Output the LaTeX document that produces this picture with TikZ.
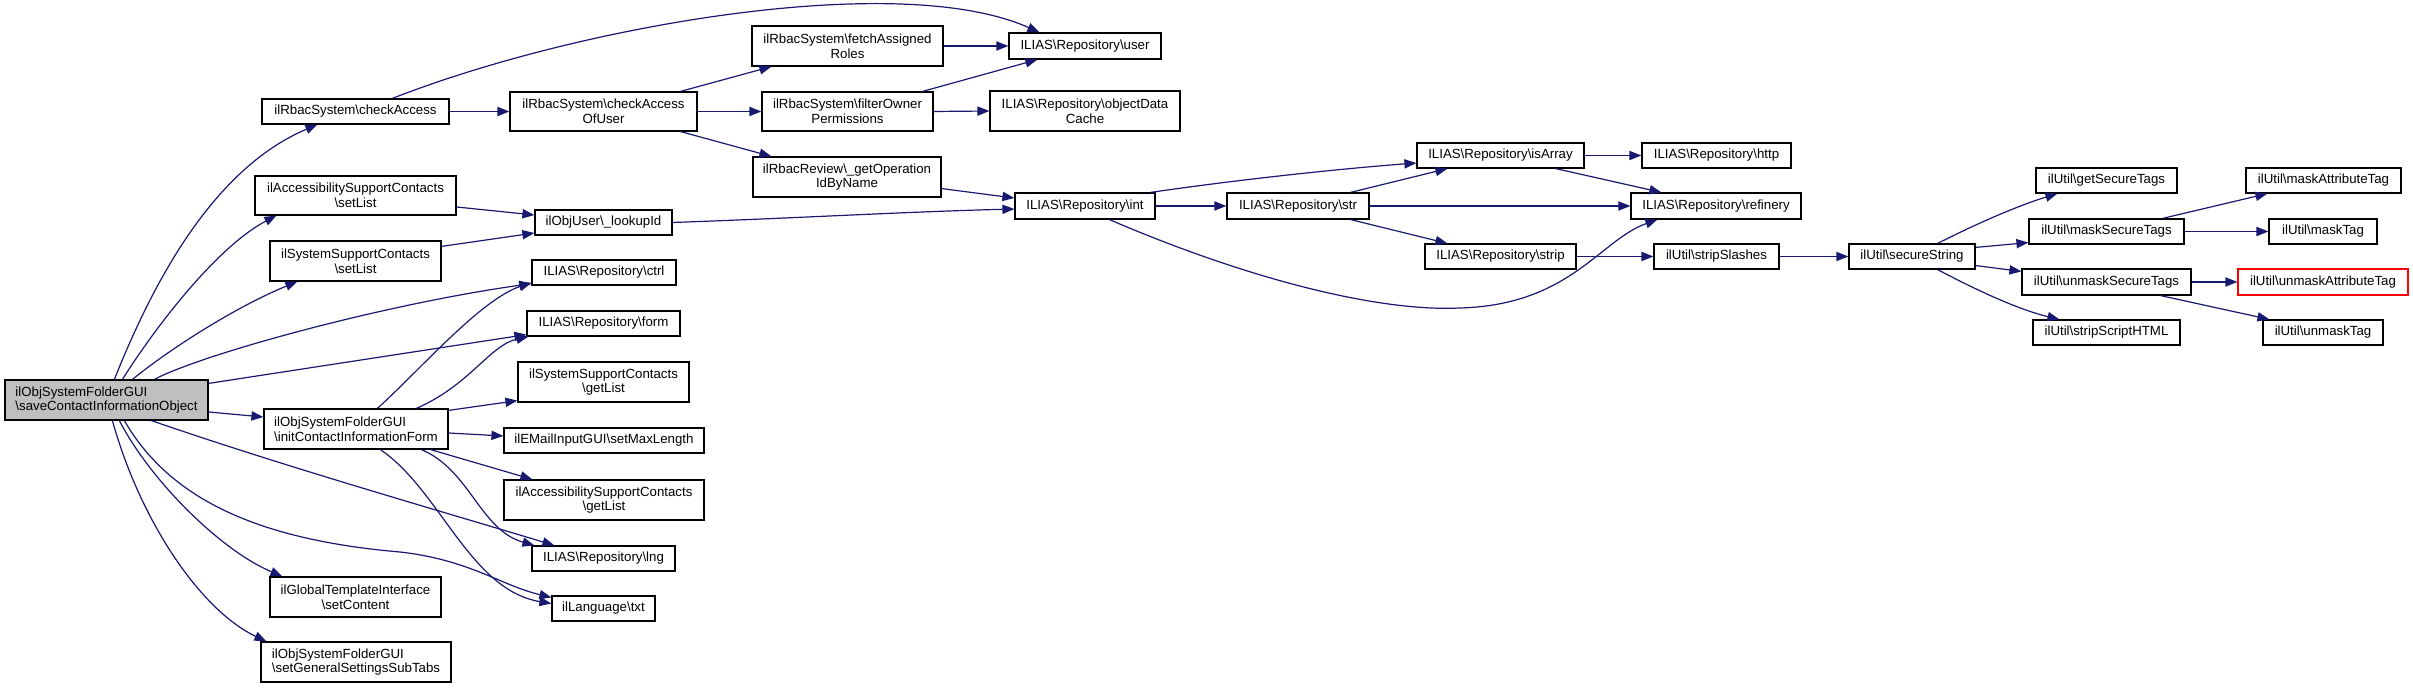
\documentclass[tikz,border=0pt]{standalone}
\usepackage{fontspec}
\setmainfont{Liberation Sans}
\usetikzlibrary{arrows.meta,calc}
\definecolor{edgeblue}{HTML}{191970}
\definecolor{rootgray}{HTML}{BFBFBF}
\newcommand\mybs{\textbackslash}
\newcommand\mkbox[7][]{\node[box,#1,minimum width={(#5-#3)*0.5pt},minimum height={(#6-#4)*0.5pt}] (#2) at ({(#3+#5)/2},{(#4+#6)/2}) {#7};}
\tikzset{
  box/.style={draw=black, line width=0.6pt, fill=white, inner sep=0pt, align=center, font=\fontsize{6.63}{7.35}\selectfont},
  callarrow/.style={draw=edgeblue, line width=0.6pt, -{Triangle[length=6pt,width=4.6pt]}},
}
\begin{document}
\begin{tikzpicture}[x=0.5pt,y=-0.5pt]
\fill[white] (0,0) rectangle (2413,688);
\useasboundingbox (0,0) rectangle (2413,688);
% nodes
\mkbox[fill=rootgray,align=left]{main}{5}{380}{208}{420}{ilObjSystemFolderGUI\\\mybs saveContactInformationObject}
\mkbox{chk}{262}{99}{449}{124}{ilRbacSystem\mybs checkAccess}
\mkbox{asl}{255}{176}{456}{215}{ilAccessibilitySupportContacts\\\mybs setList}
\mkbox{ssl}{270}{241}{441}{281}{ilSystemSupportContacts\\\mybs setList}
\mkbox[align=left]{init}{264}{409}{448}{449}{ilObjSystemFolderGUI\\\mybs initContactInformationForm}
\mkbox{setc}{270}{577}{441}{617}{ilGlobalTemplateInterface\\\mybs setContent}
\mkbox[align=left]{gst}{261}{642}{451}{682}{ilObjSystemFolderGUI\\\mybs setGeneralSettingsSubTabs}
\mkbox{chku}{510}{92}{697}{131}{ilRbacSystem\mybs checkAccess\\OfUser}
\mkbox{lkp}{535}{210}{672}{235}{ilObjUser\mybs\_lookupId}
\mkbox{ctrl}{532}{260}{676}{285}{ILIAS\mybs Repository\mybs ctrl}
\mkbox{form}{527}{311}{680}{336}{ILIAS\mybs Repository\mybs form}
\mkbox{ssg}{518}{362}{689}{402}{ilSystemSupportContacts\\\mybs getList}
\mkbox{sml}{504}{428}{704}{453}{ilEMailInputGUI\mybs setMaxLength}
\mkbox{asg}{504}{480}{704}{520}{ilAccessibilitySupportContacts\\\mybs getList}
\mkbox{lng}{532}{546}{675}{571}{ILIAS\mybs Repository\mybs lng}
\mkbox{txt}{552}{596}{655}{621}{ilLanguage\mybs txt}
\mkbox{fetch}{752}{26}{943}{66}{ilRbacSystem\mybs fetchAssigned\\Roles}
\mkbox{filt}{762}{92}{933}{131}{ilRbacSystem\mybs filterOwner\\Permissions}
\mkbox{opid}{753}{157}{941}{197}{ilRbacReview\mybs\_getOperation\\IdByName}
\mkbox{user}{1009}{33}{1161}{59}{ILIAS\mybs Repository\mybs user}
\mkbox{odc}{990}{91}{1180}{131}{ILIAS\mybs Repository\mybs objectData\\Cache}
\mkbox{int}{1015}{193}{1155}{219}{ILIAS\mybs Repository\mybs int}
\mkbox{isarr}{1417}{143}{1584}{168}{ILIAS\mybs Repository\mybs isArray}
\mkbox{str}{1227}{193}{1369}{219}{ILIAS\mybs Repository\mybs str}
\mkbox{strip}{1425}{244}{1576}{269}{ILIAS\mybs Repository\mybs strip}
\mkbox{http}{1642}{143}{1791}{168}{ILIAS\mybs Repository\mybs http}
\mkbox{ref}{1631}{193}{1801}{219}{ILIAS\mybs Repository\mybs refinery}
\mkbox{sts}{1654}{244}{1779}{269}{ilUtil\mybs stripSlashes}
\mkbox{sec}{1849}{244}{1975}{269}{ilUtil\mybs secureString}
\mkbox{gtags}{2036}{168}{2177}{193}{ilUtil\mybs getSecureTags}
\mkbox{mst}{2029}{219}{2184}{244}{ilUtil\mybs maskSecureTags}
\mkbox{umst}{2022}{269}{2191}{295}{ilUtil\mybs unmaskSecureTags}
\mkbox{ssh}{2033}{320}{2180}{345}{ilUtil\mybs stripScriptHTML}
\mkbox{mat}{2246}{168}{2401}{193}{ilUtil\mybs maskAttributeTag}
\mkbox{mtag}{2269}{219}{2377}{244}{ilUtil\mybs maskTag}
\mkbox[draw=red]{umat}{2238}{269}{2408}{295}{ilUtil\mybs unmaskAttributeTag}
\mkbox{umtag}{2263}{320}{2383}{345}{ilUtil\mybs unmaskTag}
% edges from root
\draw[callarrow] ($(main.north west)+(110,0)$) .. controls (150,290) and (210,170) .. ($(chk.south west)+(56,0)$);
\draw[callarrow] ($(main.north west)+(118,0)$) .. controls (160,320) and (220,245) .. ($(asl.south west)+(22,0)$);
\draw[callarrow] ($(main.north west)+(128,0)$) .. controls (175,345) and (240,305) .. ($(ssl.south west)+(28,0)$);
\draw[callarrow] ($(main.north west)+(150,0)$) .. controls (200,355) and (380,305) .. ($(ctrl.south west)+(0,-2)$);
\draw[callarrow] ($(main.north east)+(0,4)$) -- ($(form.south west)+(0,-2)$);
\draw[callarrow] ($(main.east)+(0,12)$) -- ($(init.west)+(0,-12)$);
\draw[callarrow] ($(main.south west)+(147,0)$) .. controls (280,465) and (420,505) .. ($(lng.north west)+(23,0)$);
\draw[callarrow] ($(main.south west)+(120,0)$) .. controls (170,500) and (260,540) .. (400,552) .. controls (470,560) and (500,585) .. ($(txt.west)+(0,-11)$);
\draw[callarrow] ($(main.south west)+(115,0)$) .. controls (150,480) and (220,550) .. ($(setc.north west)+(13,0)$);
\draw[callarrow] ($(main.south west)+(108,0)$) .. controls (140,520) and (200,610) .. ($(gst.north west)+(6,0)$);
% edges from init
\draw[callarrow] ($(init.north west)+(114,0)$) .. controls (420,370) and (480,300) .. ($(ctrl.south west)+(0,-3)$);
\draw[callarrow] ($(init.north west)+(153,0)$) .. controls (470,385) and (490,345) .. ($(form.south west)+(2,0)$);
\draw[callarrow] ($(init.north east)+(0,2)$) -- ($(ssg.south west)+(0,-2)$);
\draw[callarrow] ($(init.east)+(0,4)$) -- ($(sml.west)+(0,-4.5)$);
\draw[callarrow] ($(init.south east)+(-18,0)$) -- ($(asg.north west)+(29,0)$);
\draw[callarrow] ($(init.south west)+(158,0)$) .. controls (470,470) and (480,530) .. ($(lng.north west)+(3,0)$);
\draw[callarrow] ($(init.south west)+(117,0)$) .. controls (440,490) and (470,590) .. ($(txt.west)+(0,-5)$);
% rbac
\draw[callarrow] (chk.east) -- (chku.west);
\draw[callarrow] ($(chk.north west)+(131,0)$) .. controls (580,25) and (900,-30) .. ($(user.north west)+(31,0)$);
\draw[callarrow] ($(chku.north east)+(-17,0)$) -- ($(fetch.south west)+(20,0)$);
\draw[callarrow] (chku.east) -- (filt.west);
\draw[callarrow] ($(chku.south east)+(-17,0)$) -- ($(opid.north west)+(19,0)$);
\draw[callarrow] (fetch.east) -- (user.west);
\draw[callarrow] ($(filt.north east)+(-11,0)$) -- ($(user.south west)+(29,0)$);
\draw[callarrow] (filt.east) -- (odc.west);
\draw[callarrow] ($(opid.south east)+(0,-9)$) -- ($(int.west)+(0,-8)$);
\draw[callarrow] (lkp.east) .. controls (800,218) and (900,212) .. ($(int.west)+(0,3)$);
\draw[callarrow] ($(asl.east)+(0,11.5)$) -- ($(lkp.west)+(0,-7.5)$);
\draw[callarrow] ($(ssl.north east)+(0,6)$) -- ($(lkp.west)+(0,10.5)$);
% repository
\draw[callarrow] (int.east) -- (str.west);
\draw[callarrow] ($(int.north east)+(-5,0)$) .. controls (1250,178) and (1350,168) .. ($(isarr.west)+(0,7.5)$);
\draw[callarrow] ($(int.south west)+(95,0)$) .. controls (1250,280) and (1380,312) .. (1460,308) .. controls (1570,305) and (1600,240) .. ($(ref.south west)+(27,0)$);
\draw[callarrow] ($(str.north east)+(-19,0)$) -- ($(isarr.south west)+(31,0)$);
\draw[callarrow] (str.east) -- (ref.west);
\draw[callarrow] ($(str.south east)+(-19,0)$) -- ($(strip.north west)+(23,0)$);
\draw[callarrow] (isarr.east) -- (http.west);
\draw[callarrow] ($(isarr.south east)+(-29,0)$) -- ($(ref.north west)+(31,0)$);
\draw[callarrow] (strip.east) -- (sts.west);
\draw[callarrow] (sts.east) -- (sec.west);
% util
\draw[callarrow] ($(sec.north east)+(-38,0)$) .. controls (1980,222) and (2020,205) .. ($(gtags.south west)+(22,0)$);
\draw[callarrow] ($(sec.north east)+(0,4)$) -- ($(mst.south west)+(0,-2)$);
\draw[callarrow] ($(sec.south east)+(0,-4)$) -- ($(umst.north west)+(0,3)$);
\draw[callarrow] ($(sec.south east)+(-38,0)$) .. controls (1980,292) and (2020,310) .. ($(ssh.north west)+(27,0)$);
\draw[callarrow] ($(mst.north east)+(-22,0)$) -- ($(mat.south west)+(22,0)$);
\draw[callarrow] (mst.east) -- (mtag.west);
\draw[callarrow] (umst.east) -- (umat.west);
\draw[callarrow] ($(umst.south east)+(-31,0)$) -- ($(umtag.north west)+(7,0)$);
\end{tikzpicture}
\end{document}
